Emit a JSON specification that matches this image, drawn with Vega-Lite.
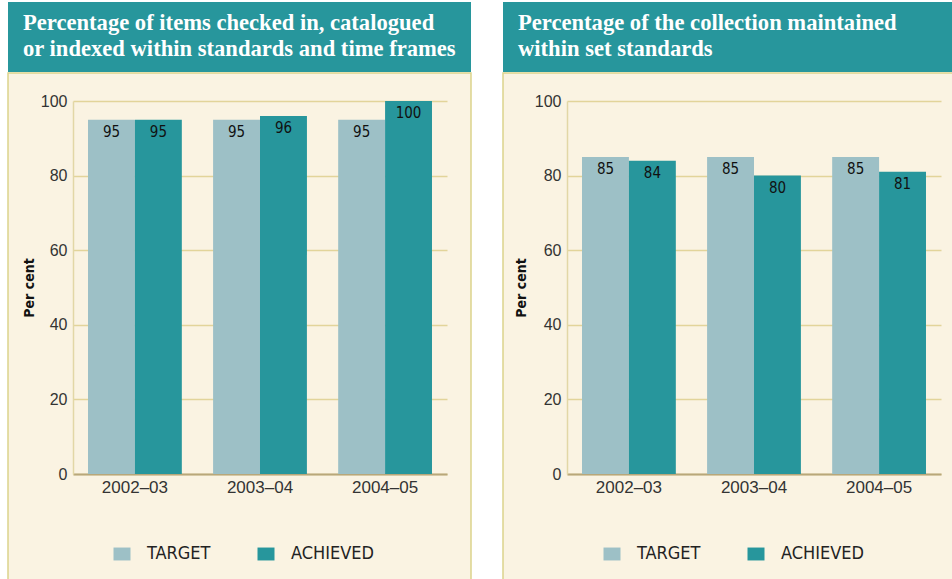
{
  "$schema": "https://vega.github.io/schema/vega-lite/v6.json",
  "background": "white",
  "padding": {"left": 7, "top": 2, "right": 0, "bottom": 0},
  "datasets": {
    "left": [
      {"year": "2002–03", "series": "TARGET", "value": 95},
      {"year": "2002–03", "series": "ACHIEVED", "value": 95},
      {"year": "2003–04", "series": "TARGET", "value": 95},
      {"year": "2003–04", "series": "ACHIEVED", "value": 96},
      {"year": "2004–05", "series": "TARGET", "value": 95},
      {"year": "2004–05", "series": "ACHIEVED", "value": 100}
    ],
    "right": [
      {"year": "2002–03", "series": "TARGET", "value": 85},
      {"year": "2002–03", "series": "ACHIEVED", "value": 84},
      {"year": "2003–04", "series": "TARGET", "value": 85},
      {"year": "2003–04", "series": "ACHIEVED", "value": 80},
      {"year": "2004–05", "series": "TARGET", "value": 85},
      {"year": "2004–05", "series": "ACHIEVED", "value": 81}
    ]
  },
  "config": {
    "view": {"stroke": null},
    "concat": {"spacing": 30},
    "axis": {
      "labelFont": "Liberation Sans",
      "labelFontSize": 16,
      "labelColor": "#333333",
      "ticks": false
    },
    "legend": {
      "labelFont": "Liberation Sans Narrow, DejaVu Sans Condensed, sans-serif",
      "labelFontSize": 18,
      "labelColor": "#222222",
      "symbolType": "M-1,-0.76H1V0.76H-1Z",
      "symbolSize": 289,
      "symbolStrokeWidth": 0,
      "labelOffset": 16,
      "columnPadding": 46,
      "direction": "horizontal"
    },
    "title": {
      "color": "white",
      "font": "Liberation Serif",
      "fontSize": 22.6,
      "fontWeight": "bold",
      "anchor": "start",
      "lineHeight": 26,
      "dx": 15,
      "offset": -59,
      "limit": 445
    }
  },
  "resolve": {"scale": {"color": "independent", "x": "independent", "y": "independent"}, "legend": {"color": "independent"}},
  "hconcat": [
    {
      "spacing": 0,
      "resolve": {"scale": {"color": "independent"}, "legend": {"color": "independent"}},
      "vconcat": [
        {
          "width": 463,
          "height": 70,
          "view": {"fill": "#27969C", "stroke": null},
          "title": {"text": ["Percentage of items checked in, catalogued", "or indexed within standards and time frames"]},
          "data": {"values": []},
          "mark": "text"
        },
        {
          "width": 463,
          "height": 507,
          "view": {"fill": "#FAF3E2", "stroke": "#DCD38C", "strokeWidth": 1.5},
          "data": {"name": "left"},
          "encoding": {
            "x": {
              "field": "year", "type": "nominal",
              "scale": {"range": [65, 439], "paddingInner": 0.25, "paddingOuter": 0.12},
              "axis": {"orient": "bottom", "offset": -106, "title": null, "labelAngle": 0, "labelPadding": 5, "labelFontSize": 17, "domainColor": "#B8A77A", "domainWidth": 2, "grid": false}
            },
            "xOffset": {"field": "series", "type": "nominal", "sort": ["TARGET", "ACHIEVED"], "scale": {"paddingInner": 0, "paddingOuter": 0}},
            "y": {
              "field": "value", "type": "quantitative",
              "scale": {"domain": [0, 100], "range": [401, 28], "nice": false},
              "axis": {"orient": "left", "offset": -65, "values": [0, 20, 40, 60, 80, 100], "title": "Per cent", "titleFont": "Liberation Sans Narrow, DejaVu Sans Condensed, sans-serif", "titleFontSize": 14, "titleFontWeight": "bold", "titleColor": "#111111", "titlePadding": 4, "labelPadding": 6, "grid": true, "gridColor": "#E2D49A", "gridWidth": 1.5, "domainColor": "#E2D7A6", "domainWidth": 1.5}
            }
          },
          "layer": [
            {
              "mark": {"type": "bar"},
              "encoding": {
                "color": {
                  "field": "series", "type": "nominal",
                  "scale": {"domain": ["TARGET", "ACHIEVED"], "range": ["#9DC0C6", "#27969C"]},
                  "legend": {"orient": "none", "legendX": 105, "legendY": 472, "title": null}
                }
              }
            },
            {
              "mark": {"type": "text", "baseline": "top", "dy": 5, "font": "Liberation Sans Narrow, DejaVu Sans Condensed, sans-serif", "fontSize": 15, "color": "#111111"},
              "encoding": {"text": {"field": "value", "type": "quantitative"}}
            }
          ]
        }
      ]
    },
    {
      "spacing": 0,
      "resolve": {"scale": {"color": "independent"}, "legend": {"color": "independent"}},
      "vconcat": [
        {
          "width": 463,
          "height": 70,
          "view": {"fill": "#27969C", "stroke": null},
          "title": {"text": ["Percentage of the collection maintained", "within set standards"]},
          "data": {"values": []},
          "mark": "text"
        },
        {
          "width": 463,
          "height": 507,
          "view": {"fill": "#FAF3E2", "stroke": "#DCD38C", "strokeWidth": 1.5},
          "data": {"name": "right"},
          "encoding": {
            "x": {
              "field": "year", "type": "nominal",
              "scale": {"range": [64, 438], "paddingInner": 0.25, "paddingOuter": 0.12},
              "axis": {"orient": "bottom", "offset": -106, "title": null, "labelAngle": 0, "labelPadding": 5, "labelFontSize": 17, "domainColor": "#B8A77A", "domainWidth": 2, "grid": false}
            },
            "xOffset": {"field": "series", "type": "nominal", "sort": ["TARGET", "ACHIEVED"], "scale": {"paddingInner": 0, "paddingOuter": 0}},
            "y": {
              "field": "value", "type": "quantitative",
              "scale": {"domain": [0, 100], "range": [401, 28], "nice": false},
              "axis": {"orient": "left", "offset": -64, "values": [0, 20, 40, 60, 80, 100], "title": "Per cent", "titleFont": "Liberation Sans Narrow, DejaVu Sans Condensed, sans-serif", "titleFontSize": 14, "titleFontWeight": "bold", "titleColor": "#111111", "titlePadding": 6, "labelPadding": 6, "grid": true, "gridColor": "#E2D49A", "gridWidth": 1.5, "domainColor": "#E2D7A6", "domainWidth": 1.5}
            }
          },
          "layer": [
            {
              "mark": {"type": "bar"},
              "encoding": {
                "color": {
                  "field": "series", "type": "nominal",
                  "scale": {"domain": ["TARGET", "ACHIEVED"], "range": ["#9DC0C6", "#27969C"]},
                  "legend": {"orient": "none", "legendX": 100, "legendY": 472, "title": null}
                }
              }
            },
            {
              "mark": {"type": "text", "baseline": "top", "dy": 5, "font": "Liberation Sans Narrow, DejaVu Sans Condensed, sans-serif", "fontSize": 15, "color": "#111111"},
              "encoding": {"text": {"field": "value", "type": "quantitative"}}
            }
          ]
        }
      ]
    }
  ]
}
